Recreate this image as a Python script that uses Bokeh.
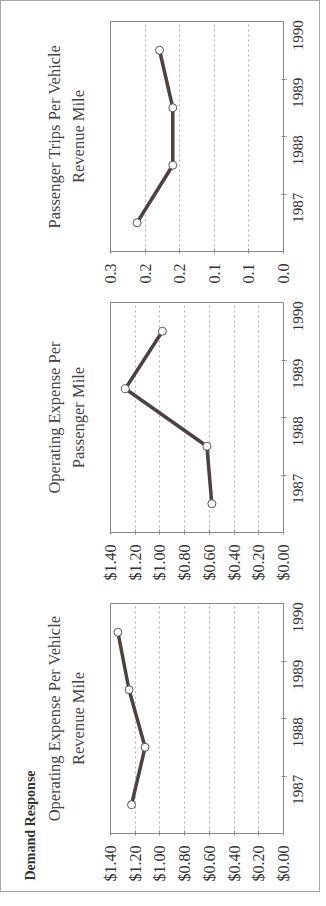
import math
from bokeh.plotting import figure
from bokeh.models import Range1d, FixedTicker, Title, ColumnDataSource
from bokeh.layouts import column
from bokeh.embed import file_html
from bokeh.resources import INLINE

years = ["1987", "1988", "1989", "1990"]
exp_per_veh_mile = [1.23, 1.12, 1.25, 1.34]
exp_per_pass_mile = [0.58, 0.62, 1.28, 0.98]
trips_per_veh_mile = [0.254, 0.192, 0.192, 0.215]

dollar_ticks = [0.0, 0.2, 0.4, 0.6, 0.8, 1.0, 1.2, 1.4]
trip_ticks = [0.0, 0.06, 0.12, 0.18, 0.24, 0.30]

section_title = "Demand Response"
titles_p1 = ["Operating Expense Per Vehicle", "Revenue Mile"]
titles_p2 = ["Operating Expense Per", "Passenger Mile"]
titles_p3 = ["Passenger Trips Per Vehicle", "Revenue Mile"]

FONT = "Liberation Serif"
LINE = "#4d4242"


def panel(values, vmax, vticks, fmt, titles, height, top, bottom, extra_title=None):
    p = figure(width=318, height=height, output_backend="svg", toolbar_location=None,
               x_range=Range1d(vmax, 0), y_range=Range1d(0, len(years)),
               x_axis_location="below", y_axis_location="right",
               min_border_left=109, min_border_right=36,
               min_border_top=top, min_border_bottom=bottom)
    p.background_fill_color = "white"
    p.border_fill_color = "white"
    p.outline_line_color = "#8a8a8a"
    p.outline_line_width = 1

    ypos = [i + 0.5 for i in range(len(years))]
    src = ColumnDataSource(dict(x=values, y=ypos))
    p.line("x", "y", source=src, line_color=LINE, line_width=3.5)
    p.scatter("x", "y", source=src, size=8, fill_color="white",
              line_color="#555555", line_width=1)

    # value axis (bottom)
    xa = p.xaxis[0]
    xa.ticker = FixedTicker(ticks=vticks)
    xa.major_label_overrides = {t: fmt(t) for t in vticks}
    xa.major_label_orientation = math.pi / 2
    xa.major_label_text_font = FONT
    xa.major_label_text_font_size = "16px"
    xa.major_label_text_color = "#333333"
    xa.major_label_standoff = 10
    xa.axis_line_color = "#8a8a8a"
    xa.major_tick_line_color = "#8a8a8a"
    xa.major_tick_in = 3
    xa.major_tick_out = 2
    xa.minor_tick_line_color = None

    # year axis (right)
    ya = p.yaxis[0]
    ya.ticker = FixedTicker(ticks=ypos, minor_ticks=list(range(1, len(years))))
    ya.major_label_overrides = {y: lab for y, lab in zip(ypos, years)}
    ya.major_label_orientation = math.pi / 2
    ya.major_label_text_font = FONT
    ya.major_label_text_font_size = "15px"
    ya.major_label_text_color = "#333333"
    ya.major_label_standoff = 11
    ya.axis_line_color = "#8a8a8a"
    ya.major_tick_line_color = None
    ya.major_tick_in = 0
    ya.major_tick_out = 0
    ya.minor_tick_line_color = "#8a8a8a"
    ya.minor_tick_in = 2
    ya.minor_tick_out = 3

    p.xgrid.ticker = FixedTicker(ticks=vticks)
    p.xgrid.grid_line_color = "#9a9a9a"
    p.xgrid.grid_line_dash = "2 3"
    p.xgrid.grid_line_width = 0.8
    p.ygrid.grid_line_color = None

    # blank gap between the frame and the titles
    p.add_layout(Title(text=" ", text_font_size="1px", standoff=19), "left")

    # two-line chart title (line nearest the frame first)
    for t, so in zip(reversed(titles), [2, 4]):
        p.add_layout(Title(text=t, align="center", text_font=FONT,
                           text_font_size="16.5px", text_font_style="normal",
                           text_color="#444444", standoff=so), "left")
    if extra_title is not None:
        p.add_layout(Title(text=extra_title, align="left", text_font=FONT,
                           text_font_size="14px", text_font_style="bold",
                           text_color="#333333", offset=-47, standoff=6), "left")
    return p


def money(v):
    return "${:.2f}".format(v)


def one_dec(v):
    return "{:.1f}".format(v)


p3 = panel(trips_per_veh_mile, 0.3, trip_ticks, one_dec, titles_p3, 290, 20, 40)
p2 = panel(exp_per_pass_mile, 1.4, dollar_ticks, money, titles_p2, 300, 11, 59)
p1 = panel(exp_per_veh_mile, 1.4, dollar_ticks, money, titles_p1, 300, 12, 58,
           extra_title=section_title)

layout = column(p3, p2, p1, spacing=0,
                styles={"border": "1px solid #a8a8a8"})

open("out.html", "w").write(file_html(layout, INLINE))
